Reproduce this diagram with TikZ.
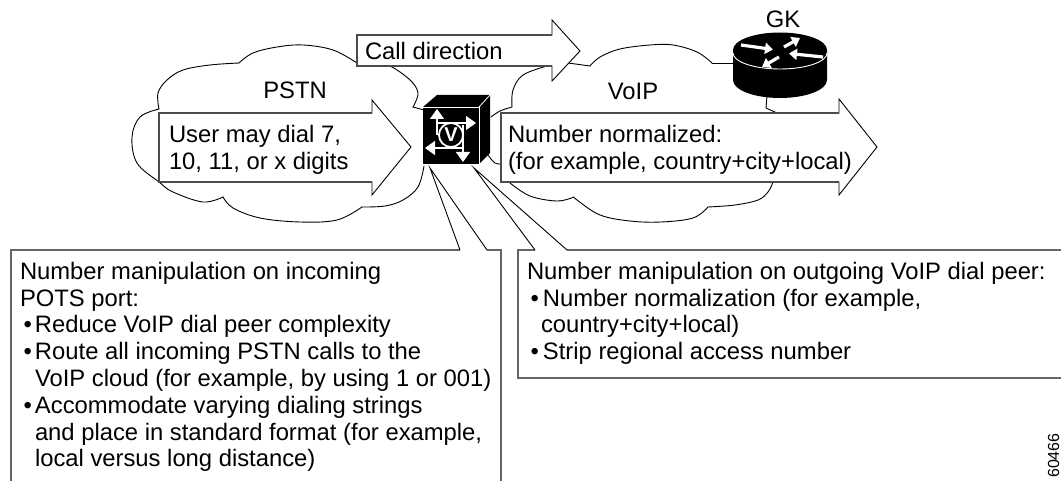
\documentclass[tikz,border=0pt]{standalone}
\usepackage{fontspec}
\usetikzlibrary{arrows.meta}
\setmainfont{Liberation Sans}
\newcommand{\bul}[1]{\makebox[#1][l]{\hspace{3.5pt}•}}
\tikzset{
  x=1pt,y=-1pt,
  lbl/.style={inner sep=0pt,outer sep=0pt,font=\fontsize{23.8}{26.8}\selectfont},
  mlbl/.style={lbl,align=left,anchor=north west},
  cloudline/.style={line width=0.9pt,black,line cap=round,line join=round},
  thin line/.style={line width=0.9pt,black},
  boxedge/.style={line width=1.4pt,black!60},
  arrowhead/.style={line width=0.9pt,black,fill=white,line join=miter},
  arrowbody/.style={line width=1.1pt,black!70,line join=miter},
  whitearrow/.style={white,line width=1.4pt,-{Triangle[length=10pt,width=14pt]}},
  routerarrow/.style={white,line width=3.2pt,-{Triangle[length=8pt,width=11pt]}}
}
\begin{document}
\begin{tikzpicture}
\useasboundingbox (0,0) rectangle (1061,481);
\fill[white] (0,0) rectangle (1061,481);
% PSTN cloud
\draw[cloudline] plot[smooth,tension=0.6] coordinates {(159,109)(140,117)(132,137)(137,163)(159,182)(173,192)(203,202)(223,197)};
\draw[cloudline] plot[smooth,tension=0.6] coordinates {(223,197)(233,208)(260,218)(300,222)(337,220)(362,207)};
\draw[cloudline] plot[smooth,tension=0.6] coordinates {(362,207)(385,206)(403,200)(418,187)(424,166)};
\draw[cloudline] plot[smooth,tension=0.6] coordinates {(159,109)(158,93)(167,80)(183,70)(210,65)(239,63)};
\draw[cloudline] plot[smooth,tension=0.6] coordinates {(239,63)(253,53)(277,47)(303,45)(333,50)(357,63)};
\draw[cloudline] plot[smooth,tension=0.6] coordinates {(372,62)(390,66)(410,80)(418,93)(413,107)};
\draw[cloudline] (413,107) -- (424,110);
% VoIP cloud
\draw[cloudline] plot[smooth,tension=0.6] coordinates {(491,117)(500,111)(512,107)};
\draw[cloudline] plot[smooth,tension=0.6] coordinates {(512,107)(513,90)(523,75)(547,66)};
\draw[cloudline] (568,63) -- (590,66);
\draw[cloudline] plot[smooth,tension=0.6] coordinates {(590,66)(600,57)(620,49)(650,45)(673,45)(697,52)(712,63)};
\draw[cloudline] (712,63) -- (735,63);
\draw[cloudline] (767,96) -- (766,108) -- (777,113);
\draw[cloudline] plot[smooth,tension=0.6] coordinates {(773,182)(768,192)(758,200)(735,205)(708,207)};
\draw[cloudline] plot[smooth,tension=0.6] coordinates {(708,207)(693,218)(661,222)(630,221)(600,215)(577,200)(574,197)};
\draw[cloudline] plot[smooth,tension=0.6] coordinates {(574,197)(557,201)(530,196)(510,183)};
\draw[cloudline] plot[smooth,tension=0.6] coordinates {(488,155)(495,163)(503,164)};
% Call direction arrow
\draw[arrowhead] (357,35) -- (552,35) -- (552,20) -- (580,51) -- (552,81) -- (552,66) -- (357,66) -- cycle;
\draw[arrowbody] (552,35) -- (357,35) -- (357,66) -- (552,66);
% PSTN arrow
\draw[arrowhead] (159,113) -- (372,113) -- (372,100) -- (411,147) -- (372,195) -- (372,182) -- (159,182) -- cycle;
\draw[arrowbody] (372,113) -- (159,113) -- (159,182) -- (372,182);
% VoIP arrow
\draw[arrowhead] (501,113) -- (839,113) -- (839,99) -- (877,147) -- (839,195) -- (839,182) -- (501,182) -- cycle;
\draw[arrowbody] (839,113) -- (501,113) -- (501,182) -- (839,182);
% Gateway cube
\fill[black] (423,107) -- (437,95) -- (490,95) -- (490,153) -- (479,164) -- (423,164) -- cycle;
\draw[white,line width=0.8pt] (423,107) -- (479,107) -- (479,164);
\draw[white,line width=0.8pt] (479,107) -- (490,95);
\draw[white,line width=1.4pt] (437,120) -- (437,135);
\draw[whitearrow] (437,123) -- (476,123);
\draw[whitearrow] (437,122) -- (437,109);
\draw[whitearrow] (463,148) -- (425,148);
\draw[whitearrow] (463,125) -- (463,162);
\draw[white,line width=1.8pt,fill=black] (451,135) circle (12);
\node[lbl,white,font=\fontsize{20}{20}\bfseries\selectfont] (vmark) at (451,135) {V};
% Router
\fill[black] (733,50) -- (733,80) arc[start angle=180,end angle=360,x radius=47,y radius=-18] -- (827,50) arc[start angle=0,end angle=180,x radius=47,y radius=-17.5] -- cycle;
\draw[white,line width=0.9pt] (733,53) arc[start angle=180,end angle=360,x radius=47,y radius=-16];
\draw[routerarrow] (741,45) -- (773,49.5);
\draw[routerarrow] (784,47) -- (800,38);
\draw[routerarrow] (823,57) -- (789,53.5);
\draw[routerarrow] (779,57) -- (762,67);
% Labels
\node[lbl,anchor=base west] (calllbl) at (365,60) {Call direction};
\node[lbl,anchor=base] (pstnlbl) at (295,99) {PSTN};
\node[lbl,anchor=base] (voiplbl) at (633,100) {VoIP};
\node[lbl,anchor=base] (gklbl) at (783,28) {GK};
\node[mlbl] (userlbl) at (169,125) {User may dial 7,\\10, 11, or x digits};
\node[mlbl] (normlbl) at (508,125) {Number normalized:\\(for example, country+city+local)};
% Left callout
\coordinate (lapex) at (430,168);
\coordinate (la) at (460,250);
\coordinate (lb) at (487,250);
\draw[boxedge] (11,481) -- (11,250) -- (la);
\draw[boxedge] (lb) -- (501,250) -- (501,481);
\draw[thin line] (la) -- (lapex) -- (lb);
\node[mlbl] (leftlbl) at (20,262) {Number manipulation on incoming\\POTS port:\\\bul{15pt}Reduce VoIP dial peer complexity\\\bul{15pt}Route all incoming PSTN calls to the\\\hspace*{15pt}VoIP cloud (for example, by using 1 or 001)\\\bul{15pt}Accommodate varying dialing strings\\\hspace*{15pt}and place in standard format (for example,\\\hspace*{15pt}local versus long distance)};
% Right callout
\coordinate (rapex) at (474,168);
\coordinate (ra) at (535,250);
\coordinate (rb) at (567,250);
\draw[boxedge] (ra) -- (518,250) -- (518,378) -- (1061,378);
\draw[boxedge] (rb) -- (1061,250);
\draw[thin line] (ra) -- (rapex) -- (rb);
\node[mlbl] (rightlbl) at (527,262) {Number manipulation on outgoing VoIP dial peer:\\\bul{16pt}Number normalization (for example,\\\hspace*{14pt}country+city+local)\\\bul{16pt}Strip regional access number};
% Figure number
\node[inner sep=0pt,rotate=90,anchor=base west,font=\fontsize{16}{16}\selectfont] (fignum) at (1059,478) {60466};
\end{tikzpicture}
\end{document}
